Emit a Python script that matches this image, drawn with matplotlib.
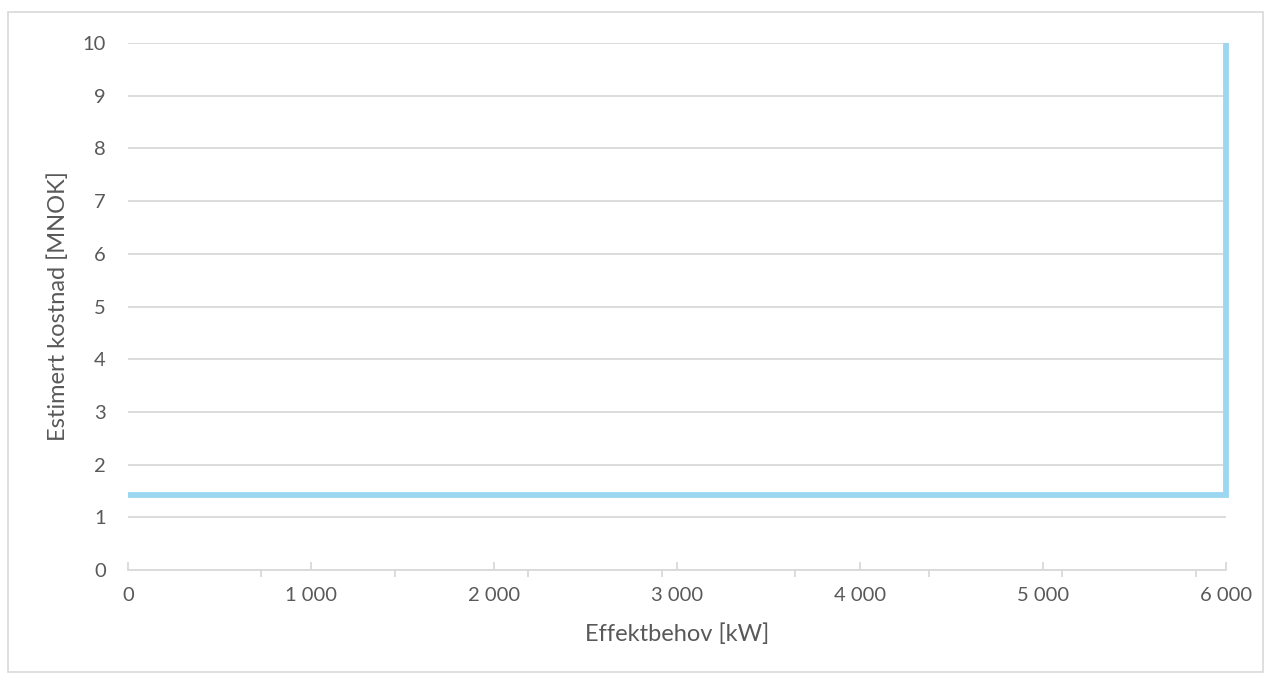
import matplotlib
matplotlib.use("Agg")
import matplotlib.pyplot as plt
from matplotlib.patches import Rectangle
from matplotlib.ticker import FixedLocator, FuncFormatter

# kostnadskurve: flat til 6000 kW, deretter loddrett
effekt_kw = [0, 6000, 6000]
kostnad_mnok = [1.43, 1.43, 10]

x_major = [0, 1000, 2000, 3000, 4000, 5000, 6000]
x_minor = [0, 729.5, 1459, 2188.5, 2918, 3647.5, 4377, 5106.5, 5836]
y_ticks = list(range(0, 11))

plt.rcParams['font.family'] = ['Lato', 'DejaVu Sans']
text_col = '#595959'
grid_col = '#D9D9D9'
line_col = '#9BD7F0'

fig = plt.figure(figsize=(12.71, 6.80), dpi=100)
ax = fig.add_axes([128 / 1271, 1 - 570 / 680, (1226 - 128) / 1271, (570 - 43) / 680])

ax.plot(effekt_kw, kostnad_mnok, color=line_col, lw=4.2,
        solid_joinstyle='miter', solid_capstyle='butt', clip_on=False, zorder=3)

ax.set_xlim(0, 6000)
ax.set_ylim(0, 10)
ax.set_yticks(y_ticks)
ax.xaxis.set_major_locator(FixedLocator(x_major))
ax.xaxis.set_minor_locator(FixedLocator(x_minor))
ax.xaxis.set_major_formatter(FuncFormatter(lambda v, p: f"{int(v):,}".replace(",", " ")))

ax.grid(axis='y', color=grid_col, lw=1.3, zorder=0)
for s in ['top', 'right', 'left']:
    ax.spines[s].set_visible(False)
ax.spines['bottom'].set_color(grid_col)
ax.spines['bottom'].set_linewidth(1.3)

ax.tick_params(axis='y', length=0, pad=16, labelsize=14.5, labelcolor=text_col)
ax.tick_params(axis='x', which='major', direction='in', length=6, width=1.3,
               color=grid_col, pad=12, labelsize=14.5, labelcolor=text_col)
ax.tick_params(axis='x', which='minor', direction='out', length=5, width=1.3,
               color=grid_col)

ax.set_xlabel("Effektbehov [kW]", fontsize=17, color=text_col, labelpad=14)
ax.set_ylabel("Estimert kostnad [MNOK]", fontsize=17, color=text_col, labelpad=10)

fig.patches.append(Rectangle((8 / 1271, 1 - 672 / 680), (1263 - 8) / 1271, (672 - 12) / 680,
                             transform=fig.transFigure, fill=False,
                             edgecolor=grid_col, lw=1.2))

fig.savefig("out.png", dpi=100)
